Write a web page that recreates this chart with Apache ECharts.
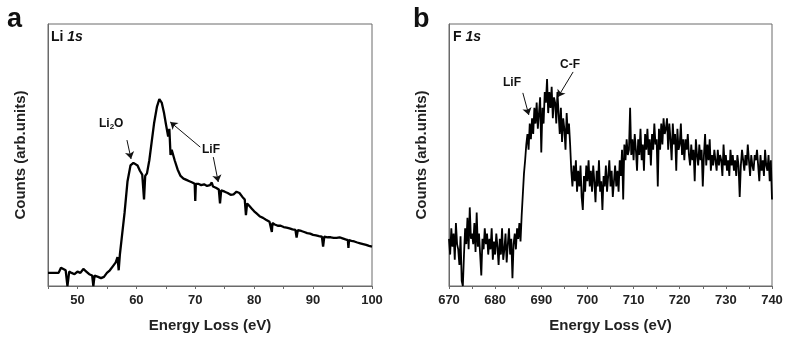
<!DOCTYPE html>
<html>
<head>
<meta charset="utf-8">
<script src="https://cdn.jsdelivr.net/npm/echarts@6/dist/echarts.min.js"></script>
<style>html,body{margin:0;padding:0;background:#fff}#c{width:787px;height:339px}</style>
</head>
<body>
<div id="c"></div>
<script>
// Panel a: Li 1s (energy loss eV, counts arb. units)
var liX = [45,46,46.8,47.2,47.6,48,48.3,48.6,49,49.5,50,50.5,51,51.5,52,52.5,52.7,52.9,53.5,54,54.5,55,55.5,56,56.5,56.8,57,57.2,57.5,58,58.5,59,59.5,59.8,60.2,60.6,61,61.3,61.5,61.8,62.2,62.6,63,63.5,63.9,64.3,64.7,65,65.4,65.6,65.8,66,66.5,67,67.5,68,68.5,69,69.5,69.9,70,70.1,70.5,71,71.5,72,72.5,72.8,73,73.5,74,74.2,74.4,75,75.5,76,76.5,77,77.5,78,78.4,78.6,78.8,79.2,79.6,80,80.5,81,81.5,82,82.6,82.9,83,83.1,83.5,84,84.5,85,85.5,86,86.5,87,87.2,87.4,88,88.5,89,89.5,90,90.5,91,91.5,91.7,91.9,92.5,93,93.5,94,94.5,95,95.5,95.9,96,96.1,96.5,97,97.5,98,98.5,99,99.5,100];
var liY = [5,5,5,7,6.5,6,0,5.5,5,4.5,5.5,5,6.5,5.5,4.5,4,0,4,3.5,3,3.5,5,6,7.5,9,11,6,12,18,28,40,46,47,47.5,46,44,42.5,33,42,43,48,55,62,68.5,71.3,70,66,62,57,60,50,52,48,44.5,42,41,40.5,40,39.5,39,32.5,39,39,38.5,38.8,38.2,38.5,39.5,38,37.5,36.8,31.5,36.5,36,35.5,34.8,35,36,35.5,34,33,27,31.5,30.5,29.5,28.5,27.5,26.5,26,25.3,24.5,24,20.6,24,23.5,23,23,22.5,22.3,22,21.6,21.4,18.5,21.3,21,20.6,20.2,20,19.5,19.3,19,18.8,15,18.8,18.6,18.6,18.4,18.4,18.6,18.2,17.8,17.5,14.5,17.5,17.2,17,16.6,16.3,16,15.7,15.3,15];

// Panel b: F 1s, sampled every 0.25 eV from 670 to 740
var fStart = 670, fStep = 0.25;
var fY = [
18,12,22,15, 20,10,24,16, 14,8,19,2, 0,12,22,16, 26,14,30,18,
20,16,24,13, 28,15,20,12, 4,18,14,22, 16,20,12,18, 14,22,10,17,
12,20,15,8, 18,12,22,10, 14,20,9,16, 22,12,18,3, 16,20,14,22,
18,24,17,27, 35,43,48,54, 58,52,62,56, 64,58,68,62, 70,60,66,72,
51,68,62,74, 70,79,66,74, 68,76,64,72, 70,62,74,66, 58,68,55,64,
60,52,66,58, 62,54,44,38, 46,40,48,36, 44,38,46,34, 29,42,36,46,
40,48,38,44, 36,46,40,32, 44,38,48,36, 40,29,42,38, 46,36,42,48,
38,44,34,40, 46,38,44,36, 48,42,52,33, 54,48,56,50, 52,68,50,56,
48,58,52,44, 56,50,60,48, 54,44,58,52, 60,50,56,46, 58,52,62,54,
56,38,60,52, 62,54,64,58, 60,64,52,62, 56,48,62,54, 58,44,60,52,
54,62,50,56, 48,56,52,58, 50,46,54,48, 52,40,56,50, 46,54,48,52,
38,50,58,46, 54,48,56,44, 50,46,52,48, 44,52,46,50, 48,42,54,46,
50,44,48,42, 52,46,50,44, 48,42,50,46, 34,46,52,48, 44,50,46,54,
48,42,50,46, 44,50,48,52, 46,40,50,44, 48,42,52,46, 44,50,40,48,
33];

var liTicks = [50,60,70,80,90,100];
var fTicks = [670,680,690,700,710,720,730,740];

var liData = liX.map(function(x,i){return [x, liY[i]];});
var fData = fY.map(function(y,i){return [fStart + i*fStep, y];});

var FONT = 'Liberation Sans, Arial, sans-serif';
var frame = '#6a6a6a';

function xAxisCfg(gi, mn, mx, ticks) {
  return {
    type:'value', gridIndex:gi, min:mn, max:mx, interval:5,
    name:'Energy Loss (eV)', nameLocation:'middle', nameGap:32,
    nameTextStyle:{fontFamily:FONT, fontWeight:'bold', fontSize:15, color:'#222'},
    axisLine:{show:true, onZero:false, lineStyle:{color:frame, width:1}},
    axisTick:{show:true, inside:false, length:3, lineStyle:{color:frame}},
    minorTick:{show:false},
    splitLine:{show:false},
    axisLabel:{fontFamily:FONT, fontWeight:'bold', fontSize:13, color:'#222', margin:8,
      formatter:function(v){return ticks.indexOf(v) >= 0 ? String(v) : '';}}
  };
}
function yAxisCfg(gi) {
  return {
    type:'value', gridIndex:gi, min:0, max:100,
    name:'Counts (arb.units)', nameLocation:'middle', nameGap:20,
    nameTextStyle:{fontFamily:FONT, fontWeight:'bold', fontSize:15, color:'#222'},
    axisLine:{show:true, lineStyle:{color:frame, width:1}},
    axisTick:{show:false}, axisLabel:{show:false}, splitLine:{show:false}
  };
}
function arrows(list) {
  return {
    silent:true, symbol:['none','arrow'], symbolSize:7, animation:false,
    label:{show:false},
    lineStyle:{color:'#111', width:1, type:'solid'},
    data:list.map(function(a){return [{coord:[a[0],a[1]]},{coord:[a[2],a[3]]}];})
  };
}

var chart = echarts.init(document.getElementById('c'), null, {renderer:'canvas'});
chart.setOption({
  animation:false,
  backgroundColor:'#fff',
  grid:[
    {left:48, right:415, top:24, bottom:53, show:true, borderColor:frame, borderWidth:1, backgroundColor:'transparent'},
    {left:449, right:15, top:24, bottom:53, show:true, borderColor:frame, borderWidth:1, backgroundColor:'transparent'}
  ],
  xAxis:[xAxisCfg(0,45,100,liTicks), xAxisCfg(1,670,740,fTicks)],
  yAxis:[yAxisCfg(0), yAxisCfg(1)],
  series:[
    {type:'line', xAxisIndex:0, yAxisIndex:0, data:liData, symbol:'none',
     lineStyle:{color:'#000', width:2.3}, itemStyle:{color:'#000'},
     markLine:arrows([[58.4,55.7,59.1,48.5],[70.85,53,65.75,62.6],[73.06,49.2,73.9,39.7]])},
    {type:'line', xAxisIndex:1, yAxisIndex:1, data:fData, symbol:'none',
     lineStyle:{color:'#000', width:1.8}, itemStyle:{color:'#000'},
     markLine:arrows([[686.0,73.7,687.3,65.3],[696.9,81.7,693.6,72.1]])}
  ],
  graphic:[
    {type:'text', left:7, top:6, style:{text:'a', font:'bold 27px '+FONT, fill:'#111'}},
    {type:'text', left:413, top:6, style:{text:'b', font:'bold 27px '+FONT, fill:'#111'}},
    {type:'text', left:51, top:30, style:{rich:{n:{font:'bold 14px '+FONT, fill:'#111'}, i:{font:'italic bold 14px '+FONT, fill:'#111'}}, text:'{n|Li }{i|1s}'}},
    {type:'text', left:453, top:30, style:{rich:{n:{font:'bold 14px '+FONT, fill:'#111'}, i:{font:'italic bold 14px '+FONT, fill:'#111'}}, text:'{n|F }{i|1s}'}},
    {type:'text', left:99, top:118, style:{rich:{n:{font:'bold 12px '+FONT, fill:'#111'}, s:{font:'bold 8px '+FONT, fill:'#111', verticalAlign:'bottom', padding:[6,0,0,0]}}, text:'{n|Li}{s|2}{n|O}'}},
    {type:'text', left:202, top:144, style:{text:'LiF', font:'bold 12px '+FONT, fill:'#111'}},
    {type:'text', left:503, top:77, style:{text:'LiF', font:'bold 12px '+FONT, fill:'#111'}},
    {type:'text', left:560, top:59, style:{text:'C-F', font:'bold 12px '+FONT, fill:'#111'}}
  ]
});
</script>
</body>
</html>
